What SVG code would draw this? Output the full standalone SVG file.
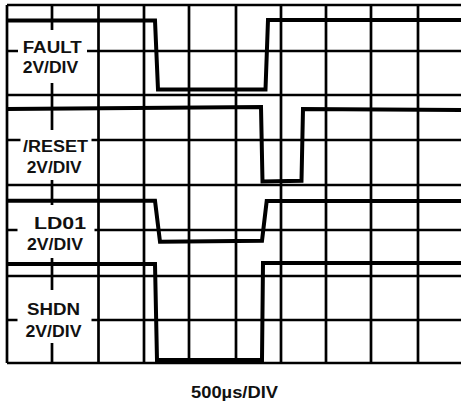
<svg xmlns="http://www.w3.org/2000/svg" width="461" height="406" viewBox="0 0 461 406">
<style>
.grid{stroke:#000;stroke-width:2.7;fill:none}
.box{fill:#fff;stroke:none}
.trace{stroke:#000;stroke-width:4;fill:none;stroke-linejoin:miter}
.lbl{font-family:"Liberation Sans",Arial,sans-serif;font-weight:bold;font-size:16px;fill:#111;text-anchor:middle}
</style>
<rect width="461" height="406" fill="#fff"/>
<g id="grid" class="grid">
<path d="M7,5 H461 M7,51 H461 M7,95 H461 M7,140 H461 M7,185 H461 M7,230 H461 M7,276 H461 M7,320 H461 M7,363 H461"/>
<path d="M7,5 V363 M52,5 V363 M98.5,5 V363 M144,5 V363 M189,5 V363 M236,5 V363 M281,5 V363 M326,5 V363 M371,5 V363 M418,5 V363"/>
</g>
<g id="label-boxes">
<rect class="box" x="18" y="30" width="69" height="53"/>
<rect class="box" x="20.5" y="130" width="71" height="50"/>
<rect class="box" x="17.5" y="205" width="77" height="53"/>
<rect class="box" x="17.5" y="290" width="74" height="53"/>
</g>
<g id="traces">
<path id="fault" class="trace" d="M7,20.5 H155 L158,89.5 H265.5 L268,20 H461"/>
<path id="reset" class="trace" d="M7,109 L261,107 L262.5,181.5 L301.5,180.8 L303,109 L461,110"/>
<path id="ld01" class="trace" d="M7,200.7 H155 L160,241.7 L262,240.7 L266.7,201 H461"/>
<path id="shdn" class="trace" d="M7,264 H155 L157,360 H262 L263,263 H461"/>
</g>
<g id="labels">
<g id="label-fault">
<text class="lbl" x="52.2" y="52.5" textLength="59" lengthAdjust="spacingAndGlyphs">FAULT</text>
<text class="lbl" x="50.4" y="73" textLength="55.5" lengthAdjust="spacingAndGlyphs">2V/DIV</text>
</g>
<g id="label-reset">
<text class="lbl" x="55.4" y="151.5" textLength="65" lengthAdjust="spacingAndGlyphs">/RESET</text>
<text class="lbl" x="54.2" y="173" textLength="55" lengthAdjust="spacingAndGlyphs">2V/DIV</text>
</g>
<g id="label-ld01">
<text class="lbl" x="60" y="229.3" textLength="52" lengthAdjust="spacingAndGlyphs">LD01</text>
<text class="lbl" x="55" y="250" textLength="56" lengthAdjust="spacingAndGlyphs">2V/DIV</text>
</g>
<g id="label-shdn">
<text class="lbl" x="53.5" y="315" textLength="53" lengthAdjust="spacingAndGlyphs">SHDN</text>
<text class="lbl" x="53.5" y="336.5" textLength="56" lengthAdjust="spacingAndGlyphs">2V/DIV</text>
</g>
<text id="timebase" class="lbl" x="234.5" y="398" textLength="87" lengthAdjust="spacingAndGlyphs">500µs/DIV</text>
</g>
</svg>
